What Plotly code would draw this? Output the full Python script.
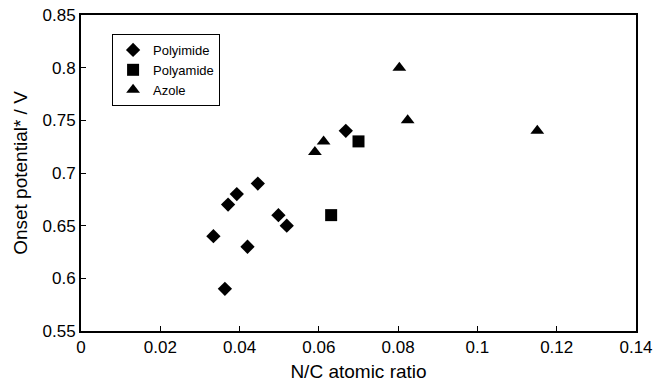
import plotly.graph_objects as go

polyimide_x = [0.0334, 0.0363, 0.0371, 0.0393, 0.0446, 0.0420, 0.0498, 0.0519, 0.0668]
polyimide_y = [0.64, 0.59, 0.67, 0.68, 0.69, 0.63, 0.66, 0.65, 0.74]
polyamide_x = [0.0631, 0.0700]
polyamide_y = [0.66, 0.73]
azole_x = [0.0590, 0.0612, 0.0803, 0.0824, 0.1151]
azole_y = [0.72, 0.73, 0.80, 0.75, 0.74]

font = "Liberation Sans, Arial, sans-serif"
fig = go.Figure()
fig.add_trace(go.Scatter(x=polyimide_x, y=polyimide_y, mode="markers", name="Polyimide",
                         marker=dict(symbol="diamond", size=11, color="black")))
fig.add_trace(go.Scatter(x=polyamide_x, y=polyamide_y, mode="markers", name="Polyamide",
                         marker=dict(symbol="square", size=12, color="black")))
fig.add_trace(go.Scatter(x=azole_x, y=azole_y, mode="markers", name="Azole",
                         marker=dict(symbol="triangle-up", size=12, color="black")))

axis_common = dict(showline=True, linecolor="black", linewidth=2, mirror=True,
                   ticks="inside", ticklen=5, tickcolor="black", tickwidth=1,
                   showgrid=False, zeroline=False, automargin=False,
                   tickfont=dict(family=font, size=17, color="black"))
fig.update_layout(
    template="none",
    width=656, height=384,
    margin=dict(l=81, r=20, t=15, b=53, pad=0),
    paper_bgcolor="white", plot_bgcolor="white",
    font=dict(family=font, color="black"),
    showlegend=True,
    legend=dict(x=0.056, y=0.94, xanchor="left", yanchor="top",
                bordercolor="black", borderwidth=1, bgcolor="white",
                font=dict(family=font, size=13, color="black"),
                itemwidth=30, tracegroupgap=0),
    xaxis=dict(range=[0, 0.14], tickvals=[0, 0.02, 0.04, 0.06, 0.08, 0.1, 0.12, 0.14],
               ticktext=["0", "0.02", "0.04", "0.06", "0.08", "0.1", "0.12", "0.14"],
               title=dict(text="N/C atomic ratio", font=dict(family=font, size=19, color="black"), standoff=8),
               **axis_common),
    yaxis=dict(range=[0.55, 0.85], tickvals=[0.55, 0.6, 0.65, 0.7, 0.75, 0.8, 0.85],
               ticktext=["0.55", "0.6", "0.65", "0.7", "0.75", "0.8", "0.85"],
               title=dict(text="Onset potential* / V", font=dict(family=font, size=19, color="black"), standoff=10),
               **axis_common),
)
fig.write_html("out.html", config={"displayModeBar": False},
               post_script="document.body.style.margin='0';document.body.style.overflow='hidden';")
